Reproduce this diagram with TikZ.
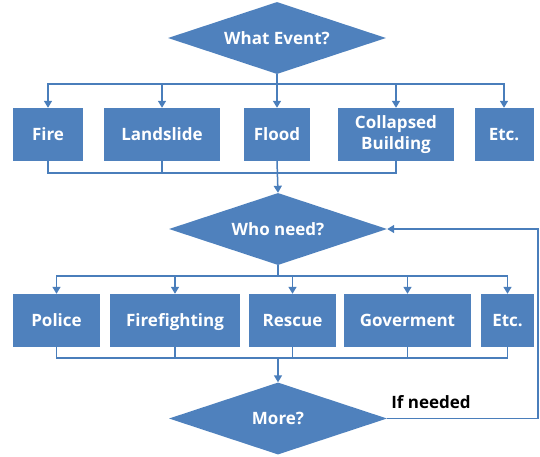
\documentclass[tikz,border=0pt]{standalone}
\usepackage{fontspec}
\setmainfont{Open Sans}
\usetikzlibrary{arrows.meta, positioning, shapes.geometric}
\definecolor{boxblue}{HTML}{4F81BD}
\definecolor{lineblue}{HTML}{4A7EBB}
\tikzset{
  decision/.style={%
    diamond,
    fill=boxblue,
    text=white,
    font=\bfseries\fontsize{17}{21}\selectfont,
    aspect=3,
    inner sep=0,
    minimum width=218pt,
    minimum height=72pt,
  },
  choice/.style={%
    rectangle,
    fill=boxblue,
    text=white,
    font=\bfseries\fontsize{17}{21}\selectfont,
    align=center,
    inner sep=0,
    minimum height=53pt,
  },
  oneline/.style={choice, text height=12.5pt, text depth=0.5pt},
  bus/.style={draw=lineblue, line width=1.5pt},
  link/.style={bus, -{Triangle[length=7pt,width=8pt]}},
}

\begin{document}
\begin{tikzpicture}[x=1pt,y=-1pt]
    \useasboundingbox (0,0) rectangle (540,456);
    % first question
    \node[decision] (event) at (277,38) {What Event?};
    \node[oneline, minimum width=70pt]  (fire)  at (48,134.5)  {Fire};
    \node[oneline, minimum width=116pt] (land)  at (162,134.5) {Landslide};
    \node[oneline, minimum width=66pt]  (flood) at (277,134.5) {Flood};
    \node[choice, minimum width=116pt]  (coll)  at (396,134.5) {Collapsed\\Building};
    \node[oneline, minimum width=59pt]  (etc1)  at (504,134.5) {Etc.};
    \draw[bus] (event.south) -- ++(0,10) coordinate (split1);
    \foreach \n in {fire, land, flood, coll, etc1}
        \draw[link] (split1) -| (\n.north);
    \draw[bus] (fire.south) -- ++(0,12) -| (coll.south);
    \draw[bus] (land.south) -- ++(0,12);
    % second question
    \node[decision] (who) at (278,229) {Who need?};
    \draw[link] (flood.south) -- (who.north);
    \node[oneline, minimum width=87pt]  (police) at (56.5,320.5)  {Police};
    \node[oneline, minimum width=130pt] (fight)  at (175,320.5)   {Firefighting};
    \node[oneline, minimum width=87pt]  (rescue) at (292.5,320.5) {Rescue};
    \node[oneline, minimum width=127pt] (gov)    at (407.5,320.5) {Goverment};
    \node[oneline, minimum width=53pt]  (etc2)   at (507.5,320.5) {Etc.};
    \draw[bus] (who.south) -- ++(0,11) coordinate (split2);
    \foreach \n in {police, fight, rescue, gov, etc2}
        \draw[link] (split2) -| (\n.north);
    \draw[bus] (police.south) -- ++(0,11) -| (etc2.south);
    \foreach \n in {fight, rescue, gov}
        \draw[bus] (\n.south) -- ++(0,11);
    % loop back
    \node[decision] (more) at (278,418.5) {More?};
    \coordinate (join2) at (278,358);
    \draw[link] (join2) -- (more.north);
    \node[font=\bfseries\fontsize{17}{21}\selectfont] (ifneeded) at (431,402) {If needed};
    \draw[link] (more.east) -- ++(151,0) |- (who.east);
\end{tikzpicture}
\end{document}
